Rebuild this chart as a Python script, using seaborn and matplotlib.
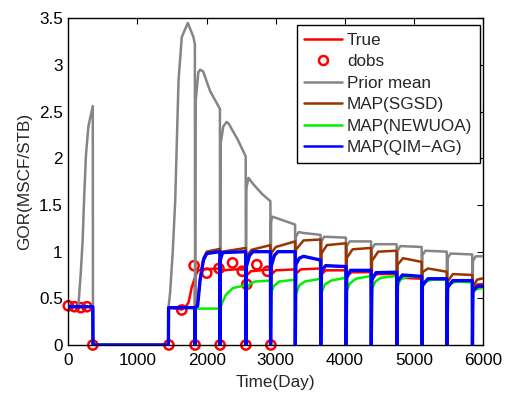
import numpy as np
import pandas as pd
import matplotlib
matplotlib.use("Agg")
import matplotlib.pyplot as plt
from matplotlib.lines import Line2D
import seaborn as sns

# ---------------- data ----------------
# shut-in periods (start day, end day): GOR is 0 during these
shutin_start = [357, 1833, 2195, 2568, 2925, 3282, 3650, 4017, 4380, 4750, 5112, 5475, 5843]
shutin_end   = [1447, 1833, 2195, 2568, 2925, 3282, 3650, 4017, 4380, 4750, 5112, 5475, 5843]

true_days = [0, 100, 354,
             1450, 1560, 1640, 1700, 1740, 1785, 1830,
             1836, 1880, 1950, 2192,
             2198, 2250, 2400, 2565,
             2571, 2640, 2922,
             2928, 3000, 3279,
             3285, 3360, 3647,
             3653, 3720, 4014,
             4020, 4100, 4377,
             4383, 4460, 4747,
             4753, 4830, 5109,
             5115, 5200, 5472,
             5478, 5560, 5840,
             5846, 5920, 6000]
true_gor = [0.42, 0.41, 0.41,
            0.40, 0.39, 0.38, 0.41, 0.46, 0.62, 0.72,
            0.74, 0.80, 0.81, 0.82,
            0.77, 0.80, 0.81, 0.81,
            0.74, 0.79, 0.81,
            0.75, 0.80, 0.81,
            0.76, 0.81, 0.82,
            0.75, 0.80, 0.80,
            0.74, 0.78, 0.78,
            0.71, 0.76, 0.76,
            0.68, 0.72, 0.71,
            0.65, 0.70, 0.70,
            0.63, 0.68, 0.68,
            0.60, 0.65, 0.65]

dobs_days = [0, 90, 180, 270, 355, 1455, 1641, 1819, 1833, 2002, 2178, 2195,
             2375, 2515, 2567, 2580, 2726, 2880, 2929]
dobs_gor = [0.42, 0.41, 0.40, 0.41, 0.0, 0.0, 0.375, 0.85, 0.0, 0.77, 0.82, 0.0,
            0.88, 0.79, 0.0, 0.65, 0.86, 0.79, 0.0]

prior_days = [0, 145, 180, 208, 230, 256, 290, 354,
              1450, 1472, 1510, 1546, 1570, 1594, 1641, 1728, 1809, 1830,
              1840, 1880, 1906, 1950, 2050, 2192,
              2202, 2240, 2290, 2320, 2450, 2565,
              2575, 2605, 2677, 2800, 2922,
              2932, 2950, 3010, 3279,
              3290, 3330, 3400, 3647,
              3660, 3700, 4014,
              4025, 4070, 4377,
              4390, 4430, 4747,
              4760, 4800, 5109,
              5120, 5160, 5472,
              5485, 5525, 5840,
              5850, 5890, 6000]
prior_gor = [0.42, 0.41, 0.77, 1.13, 1.60, 2.04, 2.34, 2.56,
             0.41, 0.56, 1.00, 1.55, 2.20, 2.84, 3.30, 3.45, 3.30, 3.22,
             2.60, 2.92, 2.95, 2.93, 2.72, 2.53,
             2.15, 2.34, 2.39, 2.37, 2.20, 2.02,
             1.68, 1.79, 1.72, 1.62, 1.54,
             1.32, 1.375, 1.36, 1.29,
             1.16, 1.21, 1.20, 1.18,
             1.11, 1.16, 1.15,
             1.06, 1.11, 1.11,
             1.03, 1.08, 1.08,
             1.01, 1.06, 1.05,
             0.96, 1.01, 1.00,
             0.93, 0.98, 0.97,
             0.90, 0.95, 0.95]

sgsd_days = [0, 354,
             1450, 1830,
             1836, 1870, 1906, 1954, 2002, 2192,
             2198, 2230, 2400, 2565,
             2575, 2650, 2922,
             2932, 3000, 3279,
             3290, 3400, 3647,
             3660, 3739, 4014,
             4025, 4110, 4377,
             4390, 4480, 4747,
             4760, 4840, 5109,
             5120, 5200, 5472,
             5485, 5560, 5840,
             5850, 5910, 6000]
sgsd_gor = [0.41, 0.41,
            0.40, 0.40,
            0.40, 0.45, 0.71, 0.93, 1.00, 1.03,
            0.95, 1.00, 1.02, 1.04,
            0.95, 1.02, 1.07,
            0.98, 1.05, 1.11,
            1.02, 1.12, 1.13,
            0.98, 1.07, 1.09,
            0.93, 1.025, 1.04,
            0.90, 1.00, 1.01,
            0.86, 0.93, 0.89,
            0.78, 0.82, 0.785,
            0.68, 0.76, 0.75,
            0.62, 0.70, 0.715]

newuoa_days = [0, 354,
               1450, 1830,
               1836, 2192,
               2198, 2230, 2280, 2380, 2565,
               2575, 2620, 2700, 2922,
               2932, 2970, 3050, 3279,
               3290, 3340, 3420, 3647,
               3660, 3710, 3800, 4014,
               4025, 4070, 4160, 4377,
               4390, 4440, 4520, 4747,
               4760, 4800, 4900, 5109,
               5120, 5170, 5260, 5472,
               5485, 5530, 5620, 5840,
               5850, 5900, 6000]
newuoa_gor = [0.41, 0.41,
              0.40, 0.40,
              0.39, 0.39,
              0.40, 0.46, 0.54, 0.61, 0.64,
              0.59, 0.65, 0.68, 0.69,
              0.56, 0.63, 0.68, 0.70,
              0.54, 0.64, 0.68, 0.71,
              0.56, 0.65, 0.69, 0.72,
              0.58, 0.66, 0.71, 0.74,
              0.60, 0.68, 0.72, 0.74,
              0.63, 0.70, 0.73, 0.735,
              0.62, 0.68, 0.70, 0.70,
              0.60, 0.66, 0.68, 0.67,
              0.56, 0.60, 0.61]

qimag_days = [0, 354,
              1450, 1830,
              1836, 1870, 1906, 1954, 2002, 2192,
              2198, 2230, 2565,
              2575, 2620, 2670, 2922,
              2932, 2980, 3030, 3279,
              3290, 3340, 3400, 3647,
              3660, 3720, 4014,
              4025, 4080, 4377,
              4390, 4450, 4747,
              4760, 4830, 5109,
              5120, 5200, 5472,
              5485, 5560, 5840,
              5850, 5920, 6000]
qimag_gor = [0.41, 0.41,
             0.40, 0.40,
             0.40, 0.42, 0.70, 0.91, 0.98, 1.00,
             0.91, 0.99, 1.00,
             0.84, 0.96, 1.00, 1.00,
             0.84, 0.96, 1.00, 1.00,
             0.86, 0.93, 0.95, 0.91,
             0.79, 0.85, 0.84,
             0.72, 0.80, 0.80,
             0.70, 0.775, 0.78,
             0.68, 0.75, 0.735,
             0.64, 0.71, 0.71,
             0.62, 0.69, 0.69,
             0.58, 0.63, 0.63]

x_ticks = [0, 1000, 2000, 3000, 4000, 5000, 6000]
y_ticks = [0, 0.5, 1, 1.5, 2, 2.5, 3, 3.5]
y_tick_labels = ["0", "0.5", "1", "1.5", "2", "2.5", "3", "3.5"]


def with_shutins(days, vals):
    """Insert zero-rate points at the shut-in days."""
    d = list(days)
    v = list(vals)
    for s, e in zip(shutin_start, shutin_end):
        d.append(s); v.append(0.0)
        if e != s:
            d.append(e); v.append(0.0)
    df = pd.DataFrame({"day": d, "gor": v}).sort_values("day", kind="stable")
    return df


# ---------------- plotting ----------------
sns.set_style("white")
plt.rcParams["font.family"] = ["Liberation Sans", "DejaVu Sans"]
FS = 12.3
plt.rcParams["font.size"] = FS

fig = plt.figure(figsize=(5.12, 3.95), dpi=100)
ax = fig.add_axes([68.3 / 512, 1 - 345 / 395, (483.3 - 68.3) / 512, (345 - 18.3) / 395])

series = [
    ("True", true_days, true_gor, "#ff0000", 1.8),
    ("Prior mean", prior_days, prior_gor, "#858585", 1.8),
    ("MAP(SGSD)", sgsd_days, sgsd_gor, "#9a3300", 1.8),
    ("MAP(NEWUOA)", newuoa_days, newuoa_gor, "#00f000", 1.8),
    ("MAP(QIM\u2212AG)", qimag_days, qimag_gor, "#0000ff", 2.4),
]

for i, (lab, d, v, c, lw) in enumerate(series):
    df = with_shutins(d, v)
    sns.lineplot(data=df, x="day", y="gor", ax=ax, color=c, lw=lw,
                 sort=False, estimator=None, legend=False, zorder=2 + i)
    if i == 0:
        sns.scatterplot(x=dobs_days, y=dobs_gor, ax=ax, marker="o", s=44,
                        facecolors="none", edgecolor="#ff0000", linewidth=1.8,
                        legend=False, zorder=2.5, clip_on=False)

ax.set_xlim(0, 6000)
ax.set_ylim(0, 3.5)
ax.set_xticks(x_ticks)
ax.set_xticklabels([str(t) for t in x_ticks])
ax.set_yticks(y_ticks)
ax.set_yticklabels(y_tick_labels)
ax.set_xlabel("Time(Day)", fontsize=FS, labelpad=5)
ax.set_ylabel("GOR(MSCF/STB)", fontsize=FS, labelpad=5)
ax.tick_params(axis="x", pad=6)
ax.tick_params(direction="in", length=4, width=0.8, top=True, right=True,
               labelsize=FS, colors="black")
ax.tick_params(axis="y", pad=4)
for sp in ax.spines.values():
    sp.set_visible(True)
    sp.set_color("black")
    sp.set_linewidth(1.0)

handles = [
    Line2D([], [], color="#ff0000", lw=1.8),
    Line2D([], [], color="#ff0000", lw=0, marker="o", markersize=6.5,
           markerfacecolor="none", markeredgewidth=1.8),
    Line2D([], [], color="#858585", lw=1.8),
    Line2D([], [], color="#9a3300", lw=1.8),
    Line2D([], [], color="#00f000", lw=1.8),
    Line2D([], [], color="#0000ff", lw=1.8),
]
labels = ["True", "dobs", "Prior mean", "MAP(SGSD)", "MAP(NEWUOA)", "MAP(QIM\u2212AG)"]
leg = ax.legend(handles, labels, loc="upper right",
                bbox_to_anchor=((480 - 68.3) / 415, 1 - (25 - 18.3) / 326.7),
                borderaxespad=0, fontsize=FS, frameon=True, fancybox=False,
                framealpha=1, edgecolor="black", handlelength=2.2,
                handletextpad=0.3, labelspacing=0.38, borderpad=0.45)
leg.get_frame().set_linewidth(1.0)
leg.set_zorder(20)

fig.savefig("out.png", dpi=100)
